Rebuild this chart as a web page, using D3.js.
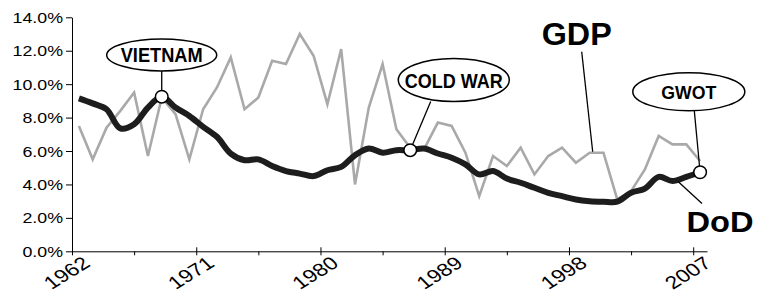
<!DOCTYPE html>
<html>

<head>
  <meta charset='utf-8'>
  <style>
    body { margin: 0; background: #fff; }
    text { font-family: "Liberation Sans", Arial, sans-serif; }
  </style>
  <script type="text/javascript" src="https://cdn.jsdelivr.net/npm/d3@7"></script>
</head>

<body>

  <script type='module'>
    // data (percent)
    const years = d3.range(1962, 2008)
    const gdp = [7.5, 5.5, 7.4, 8.4, 9.5, 5.7, 9.2, 8.2, 5.5, 8.5,
      9.8, 11.6, 8.5, 9.2, 11.4, 11.2, 13.0, 11.7, 8.8, 12.1,
      4.0, 8.6, 11.2, 7.3, 6.2, 6.1, 7.7, 7.5, 5.9, 3.3,
      5.7, 5.1, 6.2, 4.6, 5.7, 6.2, 5.3, 5.9, 5.9, 3.1,
      3.6, 4.9, 6.9, 6.4, 6.4, 5.4]
    const dod = [9.15, 8.85, 8.5, 7.35, 7.6, 8.6, 9.25, 8.6, 8.1, 7.45,
      6.85, 5.85, 5.45, 5.5, 5.1, 4.8, 4.65, 4.5, 4.85, 5.05,
      5.75, 6.15, 5.9, 6.05, 6.05, 6.15, 5.85, 5.6, 5.2, 4.6,
      4.8, 4.35, 4.1, 3.8, 3.5, 3.3, 3.1, 3.0, 2.97, 2.97,
      3.5, 3.75, 4.45, 4.2, 4.45, 4.73]
    const yTicks = [0, 2, 4, 6, 8, 10, 12, 14]
    const xLabelYears = [1962, 1971, 1980, 1989, 1998, 2007]
    const events = [
      { name: "VIETNAM", year: 1968 },
      { name: "COLD WAR", year: 1986 },
      { name: "GWOT", year: 2007 }
    ]

    let [width, height] = [757, 292]
    const stretch = 1.27
    const svg = d3.select("body").append("svg")
      .attr("width", width).attr("height", height)
      .attr("viewBox", [0, 0, width, height]);

    // category axis: each year is a band, points sit in the middle
    const x = d3.scaleLinear().domain([0, years.length]).range([72, 707])
    const y = d3.scaleLinear().domain([0, 14]).range([251.3, 17.3])
    const px = yr => x(yr - years[0] + 0.5)

    // y axis
    const gy = svg.append("g").attr("transform", `translate(${x(0)},0)`)
      .call(d3.axisLeft(y).tickValues(yTicks).tickSize(6).tickSizeOuter(0)
        .tickFormat(d => d.toFixed(1) + "%"))
    gy.select(".domain").attr("stroke", "#000")
    gy.selectAll(".tick line").attr("stroke", "#000")
    gy.selectAll(".tick text")
      .attr("x", null).attr("dy", "0.36em")
      .attr("transform", `translate(-9,0) scale(${stretch},1)`)
      .attr("font-size", 14).attr("fill", "#000")
      .attr("font-family", "Liberation Sans, Arial, sans-serif")

    // x axis: major ticks cross the line, minor ticks below
    const gx = svg.append("g").attr("transform", `translate(0,${y(0)})`)
    const majors = xLabelYears.map(d => d - years[0])
    gx.call(d3.axisBottom(x).tickValues(majors).tickSizeOuter(0)
      .tickFormat(d => years[0] + d))
    gx.select(".domain").attr("stroke", "#000")
    gx.selectAll(".tick line").attr("stroke", "#000").attr("y1", -4).attr("y2", 4)
    gx.selectAll(".tick text")
      .attr("y", null).attr("dy", "0.71em")
      .attr("text-anchor", "end")
      .attr("transform", `translate(9,4) scale(${stretch},1) rotate(-38)`)
      .attr("font-size", 18).attr("fill", "#000")
      .attr("font-family", "Liberation Sans, Arial, sans-serif")
    const gMinor = svg.append("g").attr("transform", `translate(0,${y(0)})`)
      .call(d3.axisBottom(x).tickValues(majors.map(d => d + 4.5).filter(d => d < years.length))
        .tickSize(4).tickFormat(""))
    gMinor.select(".domain").remove()
    gMinor.selectAll(".tick line").attr("stroke", "#000")

    // lines
    const grayLine = d3.line()
      .x((d, i) => px(years[i])).y(d => y(d))
    svg.append("path").datum(gdp)
      .attr("fill", "none").attr("stroke", "#a9a9a9").attr("stroke-width", 2.6)
      .attr("stroke-linejoin", "miter")
      .attr("d", grayLine)

    const blackLine = d3.line().curve(d3.curveCatmullRom)
      .x((d, i) => px(years[i])).y(d => y(d))
    svg.append("path").datum(dod)
      .attr("fill", "none").attr("stroke", "#1d1d1d").attr("stroke-width", 6)
      .attr("stroke-linejoin", "round")
      .attr("d", blackLine)

    // annotations
    const bubbles = [
      { cx: 161.7, cy: 55, rx: 55, ry: 16, tw: 82, fs: 20, from: [161.7, 71] },
      { cx: 453.8, cy: 80, rx: 55.5, ry: 21.5, tw: 98, fs: 21, from: [430.7, 101.5] },
      { cx: 688.8, cy: 91.7, rx: 56, ry: 19, tw: 55, fs: 19, from: [694.3, 110.7] }
    ]
    const gAnn = svg.append("g")
    events.forEach((e, i) => {
      const b = bubbles[i]
      const v = dod[years.indexOf(e.year)]
      gAnn.append("line")
        .attr("x1", b.from[0]).attr("y1", b.from[1])
        .attr("x2", px(e.year)).attr("y2", y(v))
        .attr("stroke", "#000").attr("stroke-width", 1.3)
    })
    // GDP and DoD pointers
    gAnn.append("line").attr("x1", 581.7).attr("y1", 51.7)
      .attr("x2", 592.7).attr("y2", 151.7)
      .attr("stroke", "#000").attr("stroke-width", 1.3)
    gAnn.append("line").attr("x1", 702).attr("y1", 203.5)
      .attr("x2", 678.3).attr("y2", 181.7)
      .attr("stroke", "#000").attr("stroke-width", 1.3)

    events.forEach((e, i) => {
      const b = bubbles[i]
      const v = dod[years.indexOf(e.year)]
      gAnn.append("circle")
        .attr("cx", px(e.year)).attr("cy", y(v)).attr("r", 6.3)
        .attr("fill", "#fff").attr("stroke", "#000").attr("stroke-width", 1.5)
      gAnn.append("ellipse")
        .attr("cx", b.cx).attr("cy", b.cy).attr("rx", b.rx).attr("ry", b.ry)
        .attr("fill", "#fff").attr("stroke", "#000").attr("stroke-width", 1.5)
      gAnn.append("text")
        .attr("x", b.cx).attr("y", b.cy + b.fs * 0.36)
        .attr("text-anchor", "middle")
        .attr("font-size", b.fs).attr("font-weight", "bold")
        .attr("textLength", b.tw).attr("lengthAdjust", "spacingAndGlyphs")
        .text(e.name)
    })

    gAnn.append("text")
      .attr("x", 576.7).attr("y", 45)
      .attr("text-anchor", "middle")
      .attr("font-size", 31).attr("font-weight", "bold")
      .attr("textLength", 70).attr("lengthAdjust", "spacingAndGlyphs")
      .text("GDP")
    gAnn.append("text")
      .attr("x", 720).attr("y", 231.7)
      .attr("text-anchor", "middle")
      .attr("font-size", 30).attr("font-weight", "bold")
      .attr("textLength", 67).attr("lengthAdjust", "spacingAndGlyphs")
      .text("DoD")
  </script>
</body>

</html>
